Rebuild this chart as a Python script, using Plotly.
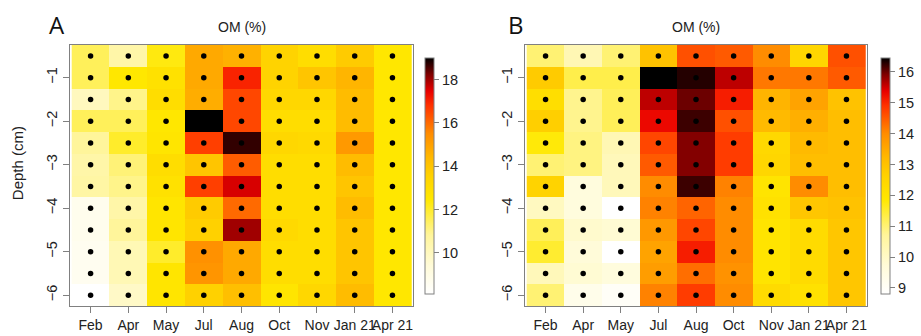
import plotly.graph_objects as go

months = ["Feb", "Apr", "May", "Jul", "Aug", "Oct", "Nov", "Jan 21", "Apr 21"]
depths = [-0.5, -1, -1.5, -2, -2.5, -3, -3.5, -4, -4.5, -5, -5.5, -6]
depth_ticks = [-1, -2, -3, -4, -5, -6]

# Panel A: OM (%) rows = depths (top to bottom), cols = months
om_a = [
    [11.5, 10.5, 12.3, 14.8, 14.6, 13.5, 13.0, 13.8, 12.5],
    [11.5, 12.5, 12.8, 14.8, 17.0, 13.5, 14.0, 14.5, 12.5],
    [10.0, 11.0, 13.0, 14.7, 16.5, 13.3, 13.3, 14.3, 12.5],
    [11.5, 11.5, 12.5, 19.0, 16.5, 13.0, 13.0, 14.3, 12.5],
    [10.8, 12.0, 12.6, 16.6, 18.7, 13.3, 13.2, 15.2, 12.5],
    [10.5, 11.2, 13.0, 14.0, 16.2, 13.0, 13.0, 14.3, 12.5],
    [10.6, 11.0, 12.8, 16.6, 17.6, 13.0, 13.0, 14.0, 12.5],
    [8.7, 10.5, 12.6, 13.8, 16.0, 13.0, 13.0, 14.3, 12.5],
    [8.7, 10.8, 12.6, 13.6, 18.0, 13.2, 13.0, 14.0, 12.5],
    [8.6, 10.2, 12.0, 15.4, 14.8, 13.0, 13.0, 14.0, 12.5],
    [8.6, 10.2, 12.6, 15.3, 14.8, 13.0, 13.0, 14.0, 12.5],
    [8.1, 9.8, 12.6, 13.6, 14.2, 12.6, 13.3, 14.3, 12.5],
]

# Panel B
om_b = [
    [11.0, 10.3, 11.0, 13.0, 14.6, 14.5, 14.0, 12.5, 14.6],
    [12.8, 11.3, 11.3, 16.45, 16.3, 15.6, 14.2, 14.2, 14.5],
    [12.2, 10.8, 11.2, 15.6, 16.0, 15.1, 13.3, 13.6, 13.0],
    [12.7, 10.8, 11.2, 15.3, 16.2, 14.6, 13.2, 13.4, 13.1],
    [11.8, 10.9, 10.3, 14.7, 15.9, 14.8, 12.4, 13.2, 13.1],
    [11.0, 10.9, 10.2, 14.5, 15.9, 14.8, 12.5, 13.1, 13.1],
    [12.6, 9.6, 10.2, 14.0, 16.2, 14.1, 12.0, 14.0, 13.1],
    [10.1, 9.6, 8.8, 14.1, 14.4, 14.0, 12.1, 12.9, 13.0],
    [11.2, 9.9, 9.8, 13.8, 14.7, 14.0, 12.0, 12.3, 12.9],
    [11.5, 9.7, 8.8, 13.6, 15.1, 14.0, 12.0, 12.3, 12.9],
    [10.2, 9.8, 9.6, 13.7, 14.3, 13.9, 12.0, 12.3, 12.9],
    [11.0, 9.3, 9.0, 14.1, 14.8, 14.0, 12.3, 12.1, 12.9],
]

cbar_ticks_a = [10, 12, 14, 16, 18]
cbar_ticks_b = [9, 10, 11, 12, 13, 14, 15, 16]

scale = [
    [0.0, "#FFFFFF"], [0.12, "#FFFBD8"], [0.25, "#FFF59A"], [0.40, "#FFE800"],
    [0.50, "#FFD200"], [0.58, "#FFB800"], [0.68, "#FF8C00"], [0.80, "#FF3000"],
    [0.86, "#E80000"], [0.93, "#800000"], [1.0, "#000000"],
]

FONT = "Liberation Sans, Arial, sans-serif"
GRAY = "#808080"

fig = go.Figure()

def add_panel(z, xa, ya, cb_x, ticks):
    fig.add_trace(go.Heatmap(
        z=z, x=months, y=depths, colorscale=scale, xaxis=xa, yaxis=ya,
        hoverinfo="skip",
        colorbar=dict(
            x=cb_x, xanchor="left", y=0.498, yanchor="middle",
            len=236, lenmode="pixels", thickness=9, thicknessmode="pixels",
            outlinecolor=GRAY, outlinewidth=1, xpad=0, ypad=0,
            tickvals=ticks, ticks="outside", ticklen=5, tickcolor=GRAY,
            tickfont=dict(size=14.5, color="#222", family=FONT),
        ),
    ))
    xs, ys = [], []
    for d in depths:
        for m in months:
            xs.append(m)
            ys.append(d)
    fig.add_trace(go.Scatter(
        x=xs, y=ys, mode="markers", xaxis=xa, yaxis=ya,
        marker=dict(size=5.5, color="black"), hoverinfo="skip", showlegend=False,
    ))

add_panel(om_a, "x", "y", 0.4454, cbar_ticks_a)
add_panel(om_b, "x2", "y2", 1.0176, cbar_ticks_b)

axis_common = dict(
    showline=True, mirror=True, linecolor=GRAY, linewidth=1, automargin=False,
    ticks="outside", ticklen=6, tickcolor=GRAY, showgrid=False, zeroline=False,
)
yax = dict(axis_common, range=[-6.25, -0.25], tickvals=depth_ticks, tickangle=-90,
           tickfont=dict(size=14.5, color="#222", family=FONT))
xax = dict(axis_common, tickangle=0, type="category",
           tickfont=dict(size=14, color="#222", family=FONT))

fig.update_layout(
    width=921, height=336,
    margin=dict(l=70, r=54, t=45, b=30, autoexpand=False),
    paper_bgcolor="white", plot_bgcolor="white",
    font=dict(family=FONT, color="#222"),
    showlegend=False,
    xaxis=dict(xax, domain=[0, 0.4304], anchor="y"),
    yaxis=dict(yax, domain=[0, 1], anchor="x"),
    xaxis2=dict(xax, domain=[0.5709, 1.0], anchor="y2"),
    yaxis2=dict(yax, domain=[0, 1], anchor="x2"),
    annotations=[
        dict(text="A", x=-0.0163, y=1.08, xref="paper", yref="paper", showarrow=False,
             font=dict(size=24, color="#111", family="Open Sans, sans-serif"), xanchor="center", yanchor="middle"),
        dict(text="B", x=0.5596, y=1.08, xref="paper", yref="paper", showarrow=False,
             font=dict(size=24, color="#111", family="Open Sans, sans-serif"), xanchor="center", yanchor="middle"),
        dict(text="OM (%)", x=0.2158, y=1.069, xref="paper", yref="paper", showarrow=False,
             font=dict(size=14, color="#222", family=FONT), xanchor="center", yanchor="middle"),
        dict(text="OM (%)", x=0.7855, y=1.069, xref="paper", yref="paper", showarrow=False,
             font=dict(size=14, color="#222", family=FONT), xanchor="center", yanchor="middle"),
        dict(text="Depth (cm)", x=-0.065, y=0.548, xref="paper", yref="paper", showarrow=False,
             textangle=-90, font=dict(size=15, color="#222", family=FONT),
             xanchor="center", yanchor="middle"),
    ],
)

fig.write_html("out.html", config={"displayModeBar": False},
               post_script="document.body.style.margin='0px';")
